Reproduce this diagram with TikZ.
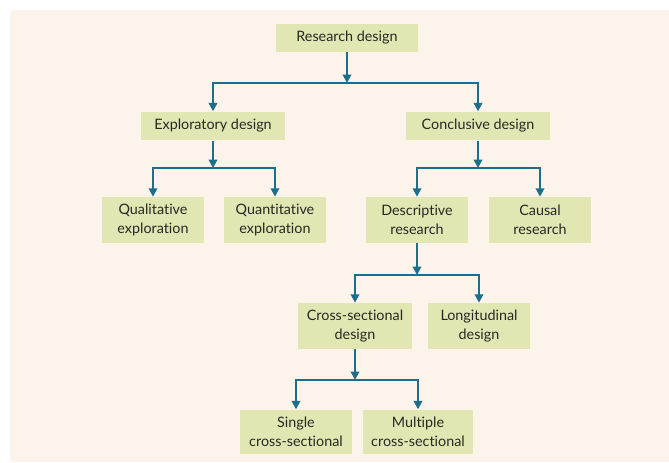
\documentclass[tikz,border=0pt]{standalone}
\usepackage{fontspec}
\setmainfont{Lato}[Ligatures={NoCommon,NoRare}]
\usetikzlibrary{arrows.meta}
\definecolor{paper}{RGB}{252,243,234}
\definecolor{boxfill}{RGB}{226,230,178}
\definecolor{teal}{RGB}{28,110,138}
\definecolor{ink}{RGB}{40,40,35}

\begin{document}
\begin{tikzpicture}[x=0.025cm,y=-0.025cm]

        % page and cream panel
        \useasboundingbox (0,0) rectangle (669,462);
        \fill[white] (0,0) rectangle (669,462);
        \fill[paper] (10,10) rectangle (669,462);

        % boxes, placed at their centres
        \begin{scope}[every node/.style={fill=boxfill,text=ink,align=center,inner sep=1pt,
                      font=\fontsize{10.2}{13.5}\selectfont,minimum width=2.55cm,minimum height=1.15cm}]
        \node[minimum width=3.55cm,minimum height=0.7cm] (R) at (347,38) {Research design};
        \node[minimum width=3.58cm,minimum height=0.72cm] (E) at (213,126) {Exploratory design};
        \node[minimum width=3.62cm,minimum height=0.72cm] (C) at (478,126) {Conclusive design};
        \node (Q1) at (153,220) {Qualitative\\exploration};
        \node (Q2) at (275,220) {Quantitative\\exploration};
        \node (D) at (417,220) {Descriptive\\research};
        \node (K) at (540,220) {Causal\\research};
        \node[minimum width=2.85cm] (X) at (355,326) {Cross-sectional\\design};
        \node (L) at (479,326) {Longitudinal\\design};
        \node[minimum width=2.8cm,minimum height=1.12cm] (S) at (296,432) {Single\\cross-sectional};
        \node[minimum width=2.75cm,minimum height=1.12cm] (M) at (418,432) {Multiple\\cross-sectional};
        \end{scope}

        % where each stem meets its bar
        \coordinate (jR) at (347,83);
        \coordinate (jE) at (213,168);
        \coordinate (jC) at (478,168);
        \coordinate (jD) at (417,275);
        \coordinate (jX) at (355,380);

        % stems and bars
        \begin{scope}[every path/.style={draw=teal,line width=2.1pt},
                      >={Triangle[length=6pt,width=6pt,fill=teal]}]
        \path [->] (R) edge (jR);
        \path [<->] (E.north) |- (jR) -| (C.north);
        \path [->] (E) edge (jE);
        \path [<->] (Q1.north) |- (jE) -| (Q2.north);
        \path [->] (C) edge (jC);
        \path [<->] (D.north) |- (jC) -| (K.north);
        \path [->] (D) edge (jD);
        \path [<->] (X.north) |- (jD) -| (L.north);
        \path [->] (X) edge (jX);
        \path [<->] (S.north) |- (jX) -| (M.north);
        \end{scope}

\end{tikzpicture}
\end{document}
